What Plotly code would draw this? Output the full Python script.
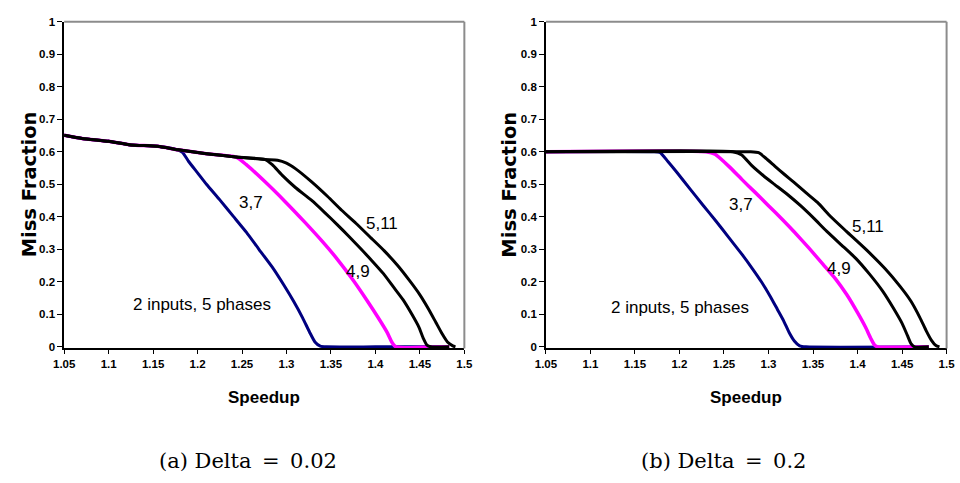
import plotly.graph_objects as go

# ---- data: miss fraction vs. speedup, 2 inputs, 5 phases ----
x_ticks = [1.05, 1.1, 1.15, 1.2, 1.25, 1.3, 1.35, 1.4, 1.45, 1.5]
x_tick_text = ["1.05", "1.1", "1.15", "1.2", "1.25", "1.3", "1.35", "1.4", "1.45", "1.5"]
y_ticks = [0, 0.1, 0.2, 0.3, 0.4, 0.5, 0.6, 0.7, 0.8, 0.9, 1]
y_tick_text = ["0", "0.1", "0.2", "0.3", "0.4", "0.5", "0.6", "0.7", "0.8", "0.9", "1"]

# (a) Delta = 0.02
a_blue_x = [1.05, 1.07, 1.10, 1.125, 1.155, 1.175, 1.183, 1.19, 1.20, 1.21, 1.225, 1.24, 1.255,
            1.269, 1.284, 1.297, 1.308, 1.318, 1.326, 1.332, 1.338, 1.345, 1.40, 1.48]
a_blue_y = [0.651, 0.641, 0.632, 0.621, 0.617, 0.608, 0.598, 0.570, 0.535, 0.500, 0.452, 0.402,
            0.352, 0.300, 0.245, 0.190, 0.140, 0.090, 0.045, 0.015, 0.002, 0, 0, 0]
a_pink_x = [1.05, 1.07, 1.10, 1.125, 1.155, 1.178, 1.21, 1.243, 1.2545, 1.2765, 1.298, 1.32,
            1.34, 1.357, 1.375, 1.39, 1.403, 1.413, 1.419, 1.423, 1.483]
a_pink_y = [0.651, 0.641, 0.632, 0.621, 0.617, 0.606, 0.594, 0.584, 0.561, 0.506, 0.448, 0.385,
            0.325, 0.270, 0.205, 0.145, 0.090, 0.045, 0.012, 0, 0]
a_k49_x = [1.05, 1.07, 1.10, 1.125, 1.155, 1.178, 1.21, 1.243, 1.276, 1.284, 1.295, 1.31, 1.328,
           1.343, 1.357, 1.37, 1.383, 1.396, 1.409, 1.42, 1.431, 1.441, 1.449, 1.454, 1.458,
           1.462, 1.483]
a_k49_y = [0.651, 0.641, 0.632, 0.621, 0.617, 0.606, 0.594, 0.584, 0.576, 0.560, 0.528, 0.490,
           0.451, 0.413, 0.376, 0.340, 0.303, 0.265, 0.225, 0.185, 0.145, 0.100, 0.060, 0.025,
           0.005, 0, 0]
a_k511_x = [1.05, 1.07, 1.10, 1.125, 1.155, 1.178, 1.21, 1.243, 1.276, 1.29, 1.30, 1.31, 1.328,
            1.346, 1.362, 1.378, 1.395, 1.41, 1.425, 1.438, 1.45, 1.46, 1.468, 1.475, 1.481,
            1.487, 1.49]
a_k511_y = [0.651, 0.641, 0.632, 0.621, 0.617, 0.606, 0.594, 0.584, 0.576, 0.574, 0.565, 0.548,
            0.508, 0.463, 0.420, 0.380, 0.335, 0.295, 0.250, 0.205, 0.160, 0.115, 0.075, 0.040,
            0.015, 0.003, 0]

# (b) Delta = 0.2
b_blue_x = [1.05, 1.17, 1.178, 1.187, 1.197, 1.212, 1.226, 1.24, 1.2555, 1.27, 1.282, 1.292,
            1.302, 1.31, 1.317, 1.323, 1.329, 1.335, 1.342, 1.48]
b_blue_y = [0.6, 0.6, 0.598, 0.570, 0.537, 0.485, 0.437, 0.390, 0.336, 0.285, 0.240, 0.200,
            0.155, 0.115, 0.080, 0.045, 0.018, 0.003, 0, 0]
b_pink_x = [1.05, 1.23, 1.24, 1.2555, 1.27, 1.285, 1.30, 1.315, 1.329, 1.345, 1.3615, 1.375,
            1.388, 1.40, 1.409, 1.415, 1.419, 1.423, 1.48]
b_pink_y = [0.6, 0.6, 0.592, 0.555, 0.515, 0.475, 0.434, 0.393, 0.353, 0.305, 0.253, 0.210,
            0.160, 0.105, 0.060, 0.025, 0.006, 0, 0]
b_k49_x = [1.05, 1.26, 1.27, 1.281, 1.294, 1.307, 1.322, 1.336, 1.351, 1.3655, 1.382, 1.398,
           1.413, 1.428, 1.44, 1.45, 1.456, 1.46, 1.464, 1.48]
b_k49_y = [0.6, 0.6, 0.590, 0.558, 0.527, 0.499, 0.467, 0.434, 0.395, 0.355, 0.313, 0.272,
           0.225, 0.172, 0.120, 0.072, 0.035, 0.010, 0, 0]
b_k511_x = [1.05, 1.28, 1.289, 1.297, 1.307, 1.318, 1.329, 1.342, 1.355, 1.37, 1.3875, 1.41,
            1.431, 1.448, 1.46, 1.47, 1.477, 1.483, 1.488, 1.492]
b_k511_y = [0.6, 0.6, 0.597, 0.580, 0.556, 0.530, 0.505, 0.474, 0.444, 0.400, 0.355, 0.298,
            0.240, 0.185, 0.140, 0.090, 0.050, 0.020, 0.004, 0]

# curve labels: (text, x, y) per panel
a_labels = [("3,7", 1.2606, 0.444), ("5,11", 1.4076, 0.380), ("4,9", 1.380, 0.232),
            ("2 inputs, 5 phases", 1.2052, 0.129)]
b_labels = [("3,7", 1.2692, 0.439), ("5,11", 1.4112, 0.369), ("4,9", 1.379, 0.240),
            ("2 inputs, 5 phases", 1.2005, 0.121)]

captions = ["(a) Delta\u2002=\u20020.02", "(b) Delta\u2002=\u20020.2"]

# ---- page geometry (pixels) ----
W, H = 960, 483
Y_TOP, Y_BOT = 16, 349.7
panels = [
    dict(xa="x", ya="y", dom=(54.3, 463.0), data=[(a_blue_x, a_blue_y), (a_pink_x, a_pink_y),
                                                   (a_k49_x, a_k49_y), (a_k511_x, a_k511_y)],
         labels=a_labels, caption=captions[0], cap_x=242, ytitle_x=18.5),
    dict(xa="x2", ya="y2", dom=(546.3, 955.5), data=[(b_blue_x, b_blue_y), (b_pink_x, b_pink_y),
                                                      (b_k49_x, b_k49_y), (b_k511_x, b_k511_y)],
         labels=b_labels, caption=captions[1], cap_x=728, ytitle_x=509),
]
colors = ["#000080", "#FF00FF", "#000000", "#000000"]
widths = [3, 3.5, 3, 3]

SANS = "Liberation Sans, Arial, sans-serif"
tick_font = dict(family=SANS, size=11.5, color="black", weight="bold")
label_font = dict(family=SANS, size=17, color="black")

fig = go.Figure()
annotations = []
shapes = []
layout_axes = {}

for i, p in enumerate(panels):
    for (xs, ys), c, w in zip(p["data"], colors, widths):
        fig.add_trace(go.Scatter(x=xs, y=ys, mode="lines", xaxis=p["xa"], yaxis=p["ya"],
                                 line=dict(color=c, width=w, shape="spline", smoothing=0.5),
                                 showlegend=False, hoverinfo="skip"))
    suffix = "" if i == 0 else "2"
    layout_axes["xaxis" + suffix] = dict(
        domain=[p["dom"][0] / W, p["dom"][1] / W], range=[1.05, 1.5], anchor=p["ya"],
        tickvals=x_ticks, ticktext=x_tick_text, ticks="outside", ticklen=4, tickwidth=1,
        tickcolor="black", showline=True, linecolor="black", linewidth=1.5,
        showgrid=False, zeroline=False, tickfont=tick_font, fixedrange=True)
    layout_axes["yaxis" + suffix] = dict(
        domain=[1 - Y_BOT / H, 1 - Y_TOP / H], range=[-0.005, 1.0], anchor=p["xa"],
        tickvals=y_ticks, ticktext=y_tick_text, ticks="outside", ticklen=5, tickwidth=1,
        tickcolor="black", showline=True, linecolor="black", linewidth=1.5,
        showgrid=False, zeroline=False, tickfont=tick_font, fixedrange=True)

    # grey frame on the top and right of the plot area
    xd, yd = p["xa"] + " domain", p["ya"] + " domain"
    shapes.append(dict(type="line", xref=xd, yref=yd, x0=0, x1=1, y0=1, y1=1,
                       line=dict(color="#8c8c8c", width=2)))
    shapes.append(dict(type="line", xref=xd, yref=yd, x0=1, x1=1, y0=0, y1=1,
                       line=dict(color="#8c8c8c", width=2)))

    for text, lx, ly in p["labels"]:
        annotations.append(dict(text=text, x=lx, y=ly, xref=p["xa"], yref=p["ya"],
                                xanchor="center", yanchor="middle",
                                showarrow=False, font=label_font))
    annotations.append(dict(text="Speedup", x=0.5, xref=xd, y=1 - 400 / H, yref="paper",
                            xanchor="center", yanchor="middle", showarrow=False,
                            font=dict(family=SANS, size=17, color="black", weight="bold")))
    annotations.append(dict(text="Miss Fraction", x=p["ytitle_x"] / W, xref="paper",
                            y=1 - 182 / H, yref="paper", textangle=-90, showarrow=False,
                            xanchor="center", yanchor="middle",
                            font=dict(family="DejaVu Sans", size=19.5, color="black",
                                      weight="bold")))
    annotations.append(dict(text=p["caption"], x=p["cap_x"] / W, xref="paper",
                            y=1 - 465 / H, yref="paper", showarrow=False,
                            xanchor="center", yanchor="middle",
                            font=dict(family="DejaVu Serif", size=21, color="black")))

fig.update_layout(width=W, height=H, margin=dict(l=0, r=0, t=0, b=0),
                  paper_bgcolor="white", plot_bgcolor="white",
                  annotations=annotations, shapes=shapes, **layout_axes)

fig.write_html("out.html")
